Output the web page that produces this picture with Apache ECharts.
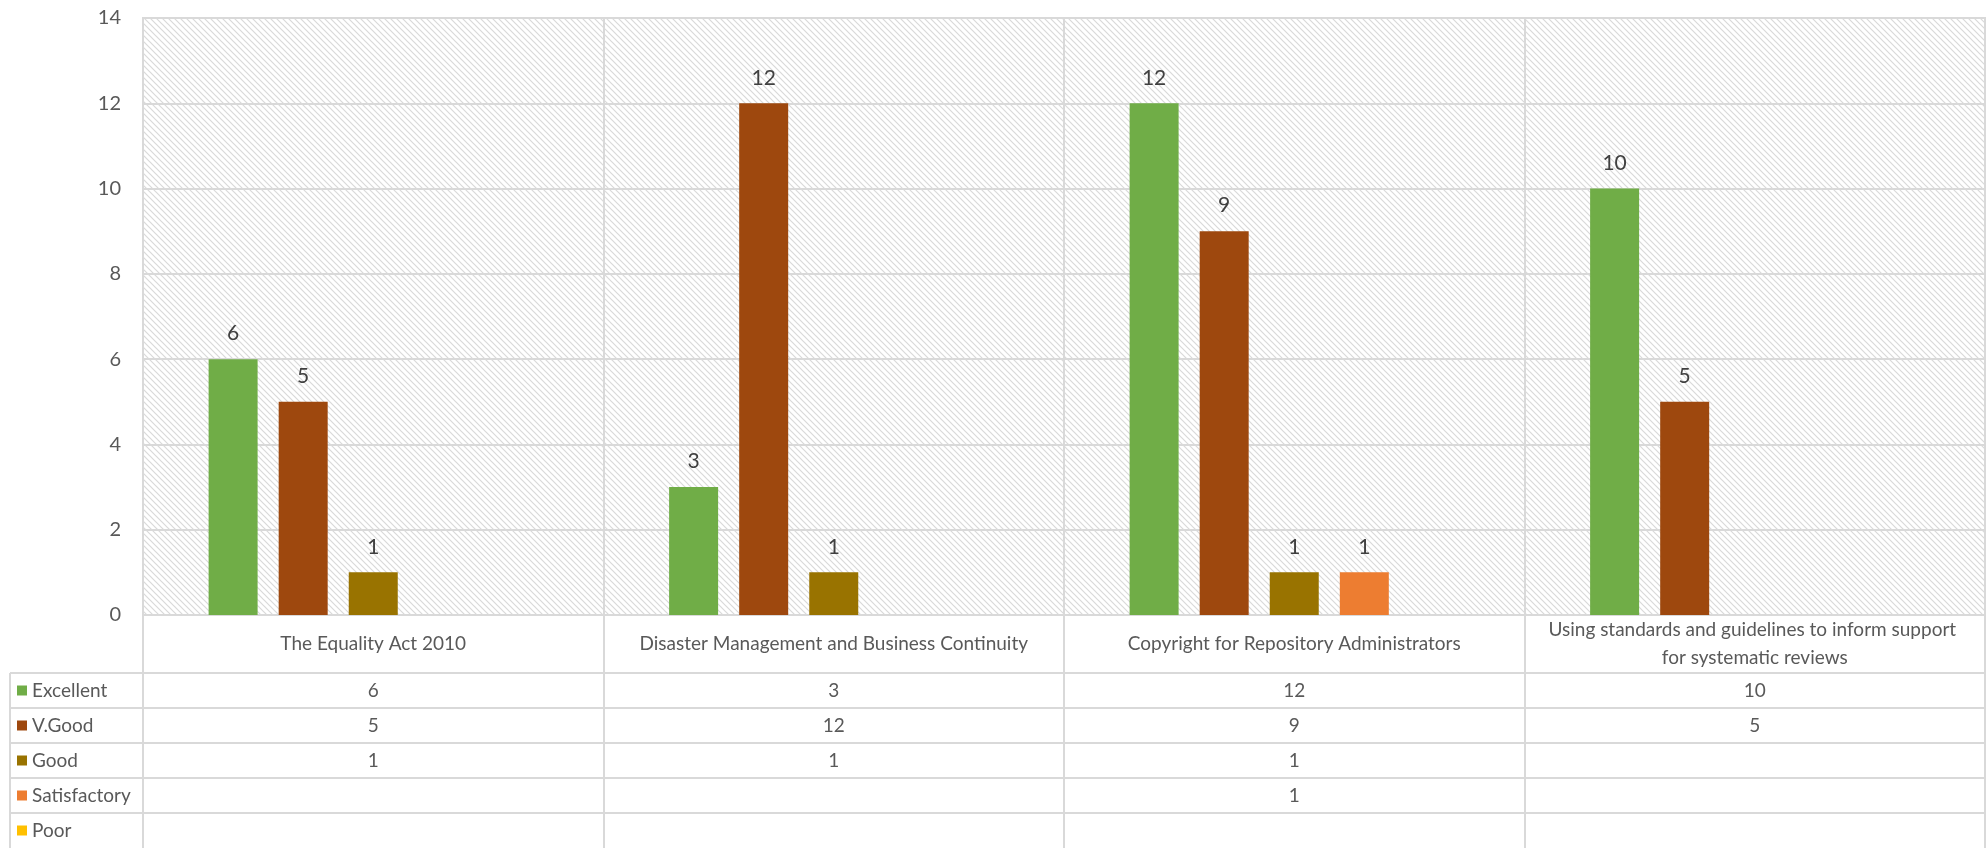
<!DOCTYPE html>
<html>
<head>
<meta charset="utf-8">
<script src="https://cdn.jsdelivr.net/npm/echarts@6/dist/echarts.min.js"></script>
<style>html,body{margin:0;padding:0;background:#fff;}#c{width:1988px;height:848px;}</style>
</head>
<body>
<div id="c"></div>
<script>
var categories = ['The Equality Act 2010', 'Disaster Management and Business Continuity', 'Copyright for Repository Administrators', 'Using standards and guidelines to inform support for systematic reviews'];
var seriesNames = ['Excellent', 'V.Good', 'Good', 'Satisfactory', 'Poor'];
var excellent = [6, 3, 12, 10];
var vgood = [5, 12, 9, 5];
var good = [1, 1, 1, null];
var satisfactory = [null, null, 1, null];
var poor = [null, null, null, null];
var yTicks = [0, 2, 4, 6, 8, 10, 12, 14];
var colors = ['#70AD47', '#9E480E', '#997300', '#ED7D31', '#FFC000'];

var allSeries = [excellent, vgood, good, satisfactory, poor];
var FONT = 'Lato, "Noto Sans", sans-serif';
var TXT = '#595959';
var LINE = '#d9d9d9';
var gridTop = 18, gridBottomY = 615, labelRowH = 58, rowH = 35;

// hatch pattern
var pc = document.createElement('canvas');
pc.width = 6; pc.height = 6;
var g = pc.getContext('2d');
g.fillStyle = '#ffffff'; g.fillRect(0, 0, 6, 6);
g.strokeStyle = '#d9d9d9'; g.lineWidth = 1.2;
g.beginPath();
g.moveTo(-1, -1); g.lineTo(7, 7);
g.moveTo(-4, 2); g.lineTo(2, 8);
g.moveTo(2, -4); g.lineTo(8, 2);
g.stroke();

var chart = echarts.init(document.getElementById('c'), null, {renderer: 'canvas'});

var xAxes = [{
  type: 'category', data: categories, gridIndex: 0, position: 'bottom',
  axisLine: {show: true, lineStyle: {color: LINE, width: 2}},
  axisTick: {show: true, length: labelRowH, interval: 0, lineStyle: {color: LINE, width: 2}},
  splitLine: {show: true, interval: 0, lineStyle: {color: LINE, width: 2}},
  axisLabel: {interval: 0, width: 428, overflow: 'break', fontFamily: FONT, fontSize: 19, color: TXT,
    lineHeight: 28, verticalAlign: 'middle', margin: labelRowH / 2}
}];
allSeries.forEach(function (arr, k) {
  xAxes.push({
    type: 'category', gridIndex: 0, position: 'bottom', offset: labelRowH + rowH * k,
    data: arr.map(function (v) { return v == null ? '' : String(v); }),
    axisLine: {show: true, lineStyle: {color: LINE, width: 2}},
    axisTick: {show: true, length: rowH + 2, interval: 0, lineStyle: {color: LINE, width: 2}},
    splitLine: {show: false},
    axisLabel: {interval: 0, fontFamily: FONT, fontSize: 19, color: TXT, verticalAlign: 'middle', margin: rowH / 2}
  });
});

var graphicEls = [];
for (var k = 0; k < 5; k++) {
  var yy = gridBottomY + labelRowH + rowH * k;
  graphicEls.push({type: 'line', shape: {x1: 10, y1: yy, x2: 143, y2: yy}, style: {stroke: LINE, lineWidth: 2}, silent: true});
}
graphicEls.push({type: 'line', shape: {x1: 10, y1: gridBottomY + labelRowH, x2: 10, y2: 860}, style: {stroke: LINE, lineWidth: 2}, silent: true});

var option = {
  animation: false,
  color: colors,
  textStyle: {fontFamily: FONT},
  grid: {left: 143, right: 3, top: gridTop, bottom: 848 - gridBottomY, show: true,
    backgroundColor: {image: pc, repeat: 'repeat'}, borderColor: LINE, borderWidth: 2},
  legend: {
    orient: 'vertical', left: 17, top: gridBottomY + labelRowH + (rowH - 20) / 2,
    height: 400, padding: 0,
    itemWidth: 10, itemHeight: 10, itemGap: rowH - 20, icon: 'rect',
    data: seriesNames,
    textStyle: {fontFamily: FONT, fontSize: 19, color: TXT, lineHeight: 20}
  },
  xAxis: xAxes,
  yAxis: {
    type: 'value', min: yTicks[0], max: yTicks[yTicks.length - 1], interval: yTicks[1] - yTicks[0],
    axisLine: {show: false}, axisTick: {show: false},
    splitLine: {show: true, lineStyle: {color: LINE, width: 2}},
    axisLabel: {fontFamily: FONT, fontSize: 20, color: TXT, margin: 22}
  },
  series: allSeries.map(function (arr, k) {
    return {
      name: seriesNames[k], type: 'bar', xAxisIndex: 0, data: arr,
      barWidth: 49, barGap: '43%',
      itemStyle: {color: colors[k]},
      label: {show: true, position: 'top', distance: 15, fontFamily: FONT, fontSize: 21, color: '#404040'}
    };
  }),
  graphic: graphicEls
};
chart.setOption(option);
</script>
</body>
</html>
